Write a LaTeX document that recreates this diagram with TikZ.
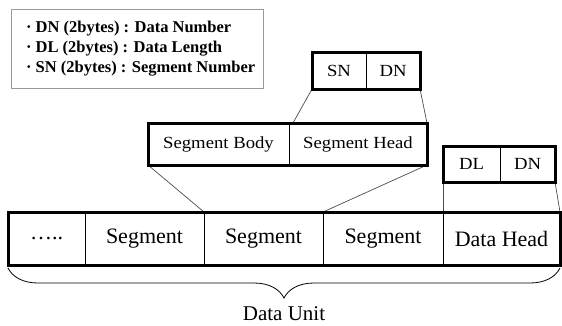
\documentclass[tikz,border=0pt]{standalone}
\usepackage{fontspec}
\setmainfont{Liberation Serif}
\newfontfamily\boxfont[FakeStretch=1.1]{Liberation Serif}
\usetikzlibrary{positioning, decorations.pathreplacing}

\begin{document}
\begin{tikzpicture}[x=1pt, y=-1pt,
    cell/.style={draw, line width=0.8pt, outer sep=0pt, inner sep=0pt, minimum height=53pt, font=\fontsize{22}{24}\selectfont},
    part/.style={draw, line width=0.8pt, outer sep=0pt, inner sep=0pt, font=\boxfont\fontsize{17}{19}\selectfont},
    frame/.style={line width=3pt},
    link/.style={draw=black!70, line width=0.7pt}]
        \useasboundingbox (0,0) rectangle (562,325);

        % legend
        \node [draw=gray!80, line width=0.8pt, minimum width=252pt, minimum height=79pt, anchor=north west] (legend) at (10.5,9) {};
        \node [anchor=west, align=left, font=\bfseries\fontsize{16.5}{20}\selectfont] (keys) at ([xshift=12pt]legend.west)
            {· DN (2bytes) : Data Number\\ · DL (2bytes) : Data Length\\ · SN (2bytes) : Segment Number};

        % data unit
        \node [cell, minimum width=77pt, anchor=north west] (dots) at (8,212) {…..};
        \node [cell, minimum width=119pt, right=0pt of dots] (seg1) {Segment};
        \node [cell, minimum width=119pt, right=0pt of seg1] (seg2) {Segment};
        \node [cell, minimum width=120pt, right=0pt of seg2] (seg3) {Segment};
        \node [cell, minimum width=117pt, right=0pt of seg3] (dhead) {Data Head};

        % segment
        \node [part, minimum width=141pt, minimum height=42pt, anchor=north west] (sbody) at (148,123) {Segment Body};
        \node [part, minimum width=138pt, minimum height=42pt, right=0pt of sbody] (shead) {Segment Head};
        \node [part, minimum width=54pt, minimum height=37pt, anchor=north west] (sn) at (312,52) {SN};
        \node [part, minimum width=54pt, minimum height=37pt, right=0pt of sn] (sdn) {DN};

        % data head
        \node [part, minimum width=57pt, minimum height=36pt, anchor=north west] (dl) at (dhead.north west |- 0,146) {DL};
        \node [part, minimum width=55pt, minimum height=36pt, right=0pt of dl] (ddn) {DN};

        \draw [link] (sn.south west) -- ([xshift=4pt]shead.north west);
        \draw [link] (sdn.south east) -- (shead.north east);
        \draw [link] (sbody.south west) -- (seg2.north west);
        \draw [link] (shead.south east) -- (seg3.north west);
        \draw [link] (dl.south west) -- (dhead.north west);
        \draw [link] (ddn.south east) -- (dhead.north east);

        \draw [frame] (dots.north west) rectangle (dhead.south east);
        \draw [frame] (sbody.north west) rectangle (shead.south east);
        \draw [frame] (sn.north west) rectangle (sdn.south east);
        \draw [frame] (dl.north west) rectangle (ddn.south east);

        \draw [decorate, decoration={brace, mirror, amplitude=30pt}, line width=0.8pt]
            ([yshift=-3pt]dots.south west) -- ([yshift=-3pt]dhead.south east);
        \node [font=\fontsize{21}{23}\selectfont] (unit) at (284,314) {Data Unit};
    \end{tikzpicture}
\end{document}
